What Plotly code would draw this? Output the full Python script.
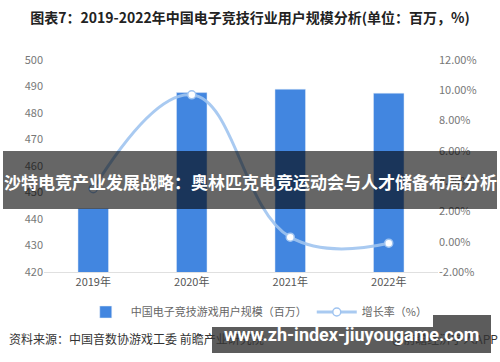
import plotly.graph_objects as go

years = ["2019年", "2020年", "2021年", "2022年"]
users = [444.0, 487.7, 489.0, 487.5]
growth = [3.5, 9.7, 0.3, -0.1]
left_ticks = [420, 430, 440, 450, 460, 470, 480, 490, 500]
right_ticks = [-2, 0, 2, 4, 6, 8, 10, 12]
right_tick_text = [f"{v:.2f}%" for v in right_ticks]

W, H = 500, 362
L, R, T, B = 44, 62, 60, 90
pw, ph = W - L - R, H - T - B

def px(x):
    return (x - L) / pw

def py(y):
    return (H - B - y) / ph

FONT = "Noto Sans CJK SC"

fig = go.Figure()
fig.add_trace(go.Bar(
    x=years, y=users, name="中国电子竞技游戏用户规模（百万）",
    marker=dict(color="#4286e0"), width=0.31, yaxis="y",
))
fig.add_trace(go.Scatter(
    x=years, y=growth, name="增长率（%）", yaxis="y2",
    mode="lines+markers",
    line=dict(color="rgba(160,196,240,0.9)", width=3, shape="spline", smoothing=1.2),
    marker=dict(size=8, color="white", line=dict(color="#a0c4f0", width=1.5)),
))

fig.update_layout(
    width=W, height=H,
    margin=dict(l=L, r=R, t=T, b=B),
    paper_bgcolor="white", plot_bgcolor="white",
    font=dict(family=FONT, size=11, color="#666"),
    showlegend=True,
    legend=dict(orientation="h", x=0.54, xanchor="center", y=py(312), yanchor="middle",
                font=dict(size=11, color="#666"), itemwidth=40),
    bargap=0.69,
    xaxis=dict(showgrid=False, showline=True, linecolor="#e0e0e0", linewidth=1,
               ticks="", tickfont=dict(size=11, color="#555")),
    yaxis=dict(range=[420, 500], tickvals=left_ticks, showgrid=False, zeroline=False,
               showline=False, ticks="", tickfont=dict(size=11, color="#777")),
    yaxis2=dict(range=[-2, 12], tickvals=right_ticks, ticktext=right_tick_text,
                overlaying="y", side="right", showgrid=False, zeroline=False,
                showline=False, ticks="", tickfont=dict(size=11, color="#777")),
    title=dict(text="<b>图表7：2019-2022年中国电子竞技行业用户规模分析(单位：百万，%)</b>",
               xref="container", x=0.5, xanchor="center",
               yref="container", y=1 - 18 / H, yanchor="middle",
               font=dict(family=FONT, size=14, color="#222")),
)

# overlay banners
fig.add_shape(type="rect", xref="paper", yref="paper",
              x0=px(3), x1=px(497), y0=py(209), y1=py(151),
              fillcolor="rgba(0,0,0,0.6)", line=dict(width=0), layer="above")
fig.add_annotation(xref="paper", yref="paper", x=px(250), y=py(181),
                   text="<b>沙特电竞产业发展战略：奥林匹克电竞运动会与人才储备布局分析</b>",
                   showarrow=False, font=dict(family=FONT, size=17, color="white"),
                   xanchor="center", yanchor="middle")

fig.add_annotation(xref="paper", yref="paper", x=px(7), y=py(338),
                   text="资料来源：中国音数协游戏工委 前瞻产业研究院",
                   showarrow=False, font=dict(family=FONT, size=12, color="#333"),
                   xanchor="left", yanchor="middle")
fig.add_annotation(xref="paper", yref="paper", x=px(500), y=py(338),
                   text="@前瞻经济学人APP",
                   showarrow=False, font=dict(family=FONT, size=12, color="#333"),
                   xanchor="right", yanchor="middle")

fig.add_shape(type="rect", xref="paper", yref="paper",
              x0=px(212), x1=px(491), y0=py(353), y1=py(315),
              fillcolor="rgba(85,85,85,0.96)", line=dict(width=0), layer="above")
fig.add_annotation(xref="paper", yref="paper", x=px(351), y=py(334),
                   text="<b>www.zh-index-jiuyougame.com</b>",
                   showarrow=False, font=dict(family="Roboto", size=18, color="white"),
                   xanchor="center", yanchor="middle")

fig.write_html("out.html")
